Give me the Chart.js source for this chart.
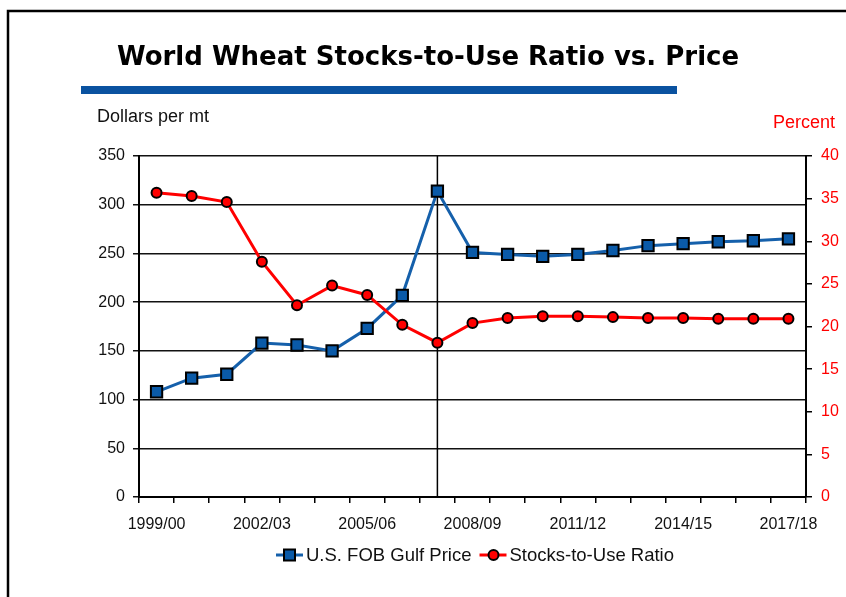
<!DOCTYPE html>
<html>
<head>
<meta charset="utf-8">
<script src="https://cdn.jsdelivr.net/npm/chart.js@4"></script>
<style>
  html, body { margin: 0; padding: 0; background: #fff; }
  #wrap { width: 846px; height: 597px; }
</style>
</head>
<body>
<div id="wrap"><canvas id="wheatChart" width="846" height="597"></canvas></div>
<script>
// marketing years
const seasons = ['1999/00', '2000/01', '2001/02', '2002/03', '2003/04', '2004/05', '2005/06',
  '2006/07', '2007/08', '2008/09', '2009/10', '2010/11', '2011/12', '2012/13', '2013/14',
  '2014/15', '2015/16', '2016/17', '2017/18'];

// U.S. FOB Gulf price, dollars per mt (left axis)
const gulfPrice = [108, 122, 126, 158, 156, 150, 173, 207, 314, 251, 249, 247, 249, 253, 258, 260, 262, 263, 265];

// world stocks-to-use ratio, percent (right axis)
const stocksToUse = [35.7, 35.3, 34.6, 27.6, 22.5, 24.8, 23.7, 20.2, 18.1, 20.4, 21.0, 21.2, 21.2, 21.1, 21.0, 21.0, 20.9, 20.9, 20.9];

const priceTicks = { min: 0, max: 350, step: 50 };
const percentTicks = { min: 0, max: 40, step: 5 };
const projectionStart = '2007/08';

const chartTitle = 'World Wheat Stocks-to-Use Ratio vs. Price';
const leftTitle = 'Dollars per mt';
const rightTitle = 'Percent';

const ctx = document.getElementById('wheatChart').getContext('2d');

// frame, title, blue rule and axis captions
const decorations = {
  id: 'decorations',
  beforeDraw(chart) {
    const c = chart.ctx;
    c.save();
    c.fillStyle = '#fff';
    c.fillRect(0, 0, chart.width, chart.height);
    c.strokeStyle = '#000';
    c.lineWidth = 2.5;
    c.strokeRect(8, 11, 900, 700);

    c.fillStyle = '#000';
    c.font = 'bold 26px "DejaVu Sans"';
    c.textAlign = 'center';
    c.textBaseline = 'middle';
    c.fillText(chartTitle, 428, 58);

    c.fillStyle = '#0a52a0';
    c.fillRect(81, 86, 596, 8);

    c.font = '18px "Liberation Sans"';
    c.textAlign = 'left';
    c.fillStyle = '#111';
    c.fillText(leftTitle, 97, 117);
    c.textAlign = 'right';
    c.fillStyle = '#ff0000';
    c.fillText(rightTitle, 835, 123);
    c.restore();
  }
};

// vertical line at the start of the projections
const projectionLine = {
  id: 'projectionLine',
  beforeDatasetsDraw(chart) {
    const x = chart.scales.x.getPixelForValue(seasons.indexOf(projectionStart));
    const area = chart.chartArea;
    const c = chart.ctx;
    c.save();
    c.strokeStyle = '#000';
    c.lineWidth = 1.5;
    c.beginPath();
    c.moveTo(x, area.top);
    c.lineTo(x, area.bottom);
    c.stroke();
    c.restore();
  }
};

// line-marker-line legend like the original
const lineLegend = {
  id: 'lineLegend',
  afterDraw(chart) {
    const c = chart.ctx;
    const y = 555;
    c.save();
    c.font = '18.5px "Liberation Sans"';
    c.textBaseline = 'middle';
    const items = chart.data.datasets.map(ds => ({ ds, w: 30 + c.measureText(ds.label).width }));
    const gap = 8;
    let total = items.reduce((s, it) => s + it.w, 0) + gap * (items.length - 1);
    let x = 475 - total / 2;
    items.forEach(({ ds, w }) => {
      c.strokeStyle = ds.borderColor;
      c.lineWidth = 3;
      c.beginPath();
      c.moveTo(x, y);
      c.lineTo(x + 27, y);
      c.stroke();
      c.fillStyle = ds.pointBackgroundColor;
      c.strokeStyle = ds.pointBorderColor;
      c.lineWidth = 2;
      c.beginPath();
      if (ds.pointStyle === 'rect') {
        c.rect(x + 8, y - 5.5, 11, 11);
      } else {
        c.arc(x + 14, y, 5, 0, Math.PI * 2);
      }
      c.fill();
      c.stroke();
      c.fillStyle = '#111';
      c.textAlign = 'left';
      c.fillText(ds.label, x + 30, y + 1);
      x += w + gap;
    });
    c.restore();
  }
};

new Chart(ctx, {
  type: 'line',
  data: {
    labels: seasons,
    datasets: [{
      label: 'U.S. FOB Gulf Price',
      data: gulfPrice,
      yAxisID: 'y',
      borderColor: '#1560ab',
      borderWidth: 3,
      pointStyle: 'rect',
      pointRadius: 8,
      pointBackgroundColor: '#0a5aa8',
      pointBorderColor: '#000',
      pointBorderWidth: 2,
      tension: 0,
      order: 1
    }, {
      label: 'Stocks-to-Use Ratio',
      data: stocksToUse,
      yAxisID: 'y1',
      borderColor: '#ff0000',
      borderWidth: 3,
      pointStyle: 'circle',
      pointRadius: 5,
      pointBackgroundColor: '#ff0000',
      pointBorderColor: '#000',
      pointBorderWidth: 2,
      tension: 0,
      order: 0
    }]
  },
  options: {
    responsive: false,
    animation: false,
    events: [],
    layout: { padding: { top: 156, bottom: 50, left: 0, right: 0 } },
    plugins: {
      legend: { display: false },
      title: { display: false },
      tooltip: { enabled: false }
    },
    scales: {
      x: {
        offset: true,
        afterFit(scale) { scale.height = 50; },
        grid: {
          offset: true,
          drawOnChartArea: false,
          drawTicks: true,
          tickLength: 6,
          color: '#000',
          lineWidth: 1.5
        },
        border: { color: '#000', width: 2 },
        ticks: {
          autoSkip: false,
          maxRotation: 0,
          padding: 12,
          color: '#111',
          font: { family: '"Liberation Sans"', size: 16 },
          callback: (value, index) => (index % 3 === 0 ? seasons[index] : '')
        }
      },
      y: {
        position: 'left',
        min: priceTicks.min,
        max: priceTicks.max,
        afterFit(scale) { scale.width = 139; },
        grid: { color: '#111', lineWidth: 1.5, tickLength: 6 },
        border: { color: '#000', width: 2 },
        ticks: {
          stepSize: priceTicks.step,
          padding: 8,
          color: '#111',
          font: { family: '"Liberation Sans"', size: 16 }
        }
      },
      y1: {
        position: 'right',
        min: percentTicks.min,
        max: percentTicks.max,
        afterFit(scale) { scale.width = 40; },
        grid: { drawOnChartArea: false, color: '#000', lineWidth: 1.5, tickLength: 6 },
        border: { color: '#000', width: 2 },
        ticks: {
          stepSize: percentTicks.step,
          padding: 9,
          color: '#ff0000',
          font: { family: '"Liberation Sans"', size: 16 }
        }
      }
    }
  },
  plugins: [decorations, projectionLine, lineLegend]
});
</script>
</body>
</html>
